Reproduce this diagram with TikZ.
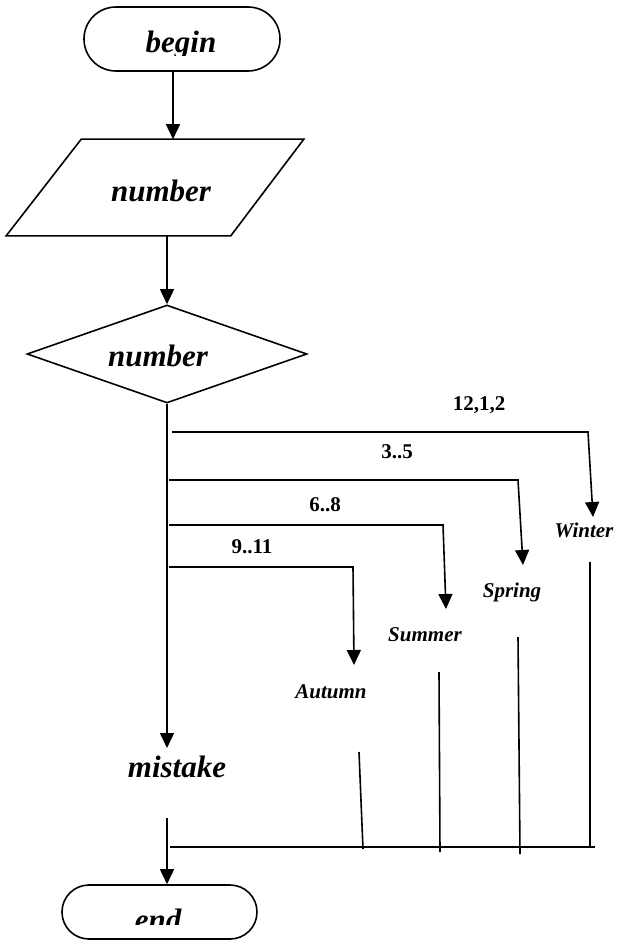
\documentclass[tikz,border=0pt]{standalone}
\usepackage{fontspec}
\setmainfont{Liberation Serif}
\usetikzlibrary{arrows.meta,shapes.geometric}
\begin{document}
\begin{tikzpicture}[x=1pt,y=-1pt,
  line width=1.6pt,
  every node/.style={inner sep=0pt},
  arr/.style={-{Triangle[length=15pt,width=14pt]}},
  term/.style={draw,rectangle},
  big/.style={font=\fontsize{31}{31}\selectfont\bfseries\itshape},
  season/.style={font=\fontsize{21}{21}\selectfont\bfseries\itshape},
  case/.style={font=\fontsize{21}{21}\selectfont\bfseries},
]
\useasboundingbox (0,0) rectangle (618,941);

% terminal: begin
\node[term, rounded corners=31.9pt, minimum width=196pt, minimum height=64pt] (start) at (182,39) {};
\begin{scope}
  \clip (0,0) rectangle (618,56);
  \node[big, anchor=base] (starttxt) at (181,53) {begin};
\end{scope}

% input: a slanted box drawn over the corners of its frame
\node[minimum width=296pt, minimum height=95pt] (inp) at (155,187.5) {};
\draw (inp.south west) -- ([xshift=75pt]inp.north west) -- (inp.north east)
      -- ([xshift=-73pt]inp.south east) -- cycle;
\node[big] (inptxt) at (161,191) {number};

% decision
\node[draw, diamond, minimum width=280pt, minimum height=98pt] (dec) at (167,354) {};
\node[big] (dectxt) at (158,356) {number};

% default branch
\node[big] (mistake) at (177,767) {mistake};

% case labels
\node[case] (c1) at (479,405) {12,1,2};
\node[case] (c2) at (397,452) {3..5};
\node[case] (c3) at (325,505) {6..8};
\node[case] (c4) at (252,547) {9..11};

% seasons
\node[season] (winter) at (584,530) {Winter};
\node[season] (spring) at (512,592) {Spring};
\node[season] (summer) at (425,635) {Summer};
\node[season] (autumn) at (331,692) {Autumn};

% terminal: end
\node[term, rounded corners=26.9pt, minimum width=195pt, minimum height=54pt] (stop) at (159.5,912) {};
\begin{scope}
  \clip (0,0) rectangle (618,924);
  \node[big, anchor=base] (stoptxt) at (158,930) {end};
\end{scope}

% route points
\coordinate (mtip) at (167,748);
\coordinate (b1) at (172,432); \coordinate (w1) at (588,432); \coordinate (wtip) at (593,517);
\coordinate (b2) at (169,480); \coordinate (s1) at (518,480); \coordinate (stip) at (523,565);
\coordinate (b3) at (169,525); \coordinate (u1) at (443,525); \coordinate (utip) at (446,609);
\coordinate (b4) at (169,567); \coordinate (a1) at (353,567); \coordinate (atip) at (354,665);
\coordinate (wl) at (590,562); \coordinate (wb) at (590,847);
\coordinate (sl) at (518,637); \coordinate (sb) at (520,854);
\coordinate (ul) at (439,672); \coordinate (ub) at (440,852);
\coordinate (al) at (359,752); \coordinate (ab) at (363,849);
\coordinate (busl) at (170,847); \coordinate (busr) at (595,847);
\coordinate (etop) at (167,818);

% connectors
\draw[arr] ([xshift=-9pt]start.south) -- ([xshift=-9pt]start.south |- inp.north);
\draw[arr] (inp.south -| dec.north) -- (dec.north);
\draw[arr] (dec.south) -- (mtip);
\draw[arr] (b1) -- (w1) -- (wtip);
\draw[arr] (b2) -- (s1) -- (stip);
\draw[arr] (b3) -- (u1) -- (utip);
\draw[arr] (b4) -- (a1) -- (atip);
\draw (wl) -- (wb);
\draw (sl) -- (sb);
\draw (ul) -- (ub);
\draw (al) -- (ab);
\draw (busl) -- (busr);
\draw[arr] (etop) -- (etop |- stop.north);
\end{tikzpicture}
\end{document}
